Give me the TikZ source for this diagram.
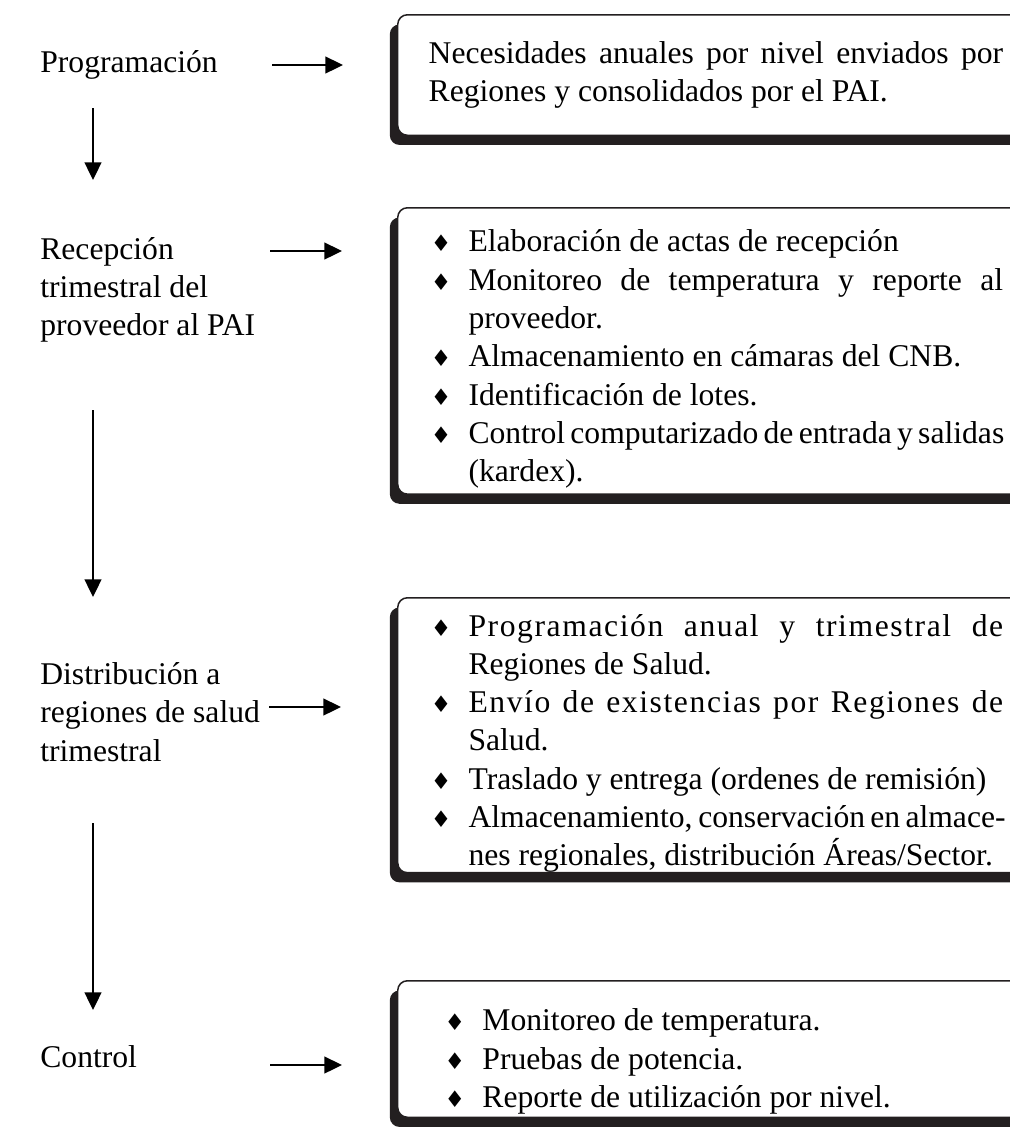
\documentclass[tikz,border=0pt]{standalone}
\usepackage{fontspec}
\setmainfont{Liberation Serif}
\newfontfamily\simbolos{DejaVu Sans}
\usetikzlibrary{arrows.meta,shadows}

\definecolor{tinta}{HTML}{231F20}

% bullets of the boxes
\newcommand{\rombo}{{\simbolos\fontsize{13}{13}\selectfont ♦}}
\newenvironment{vinetas}[1]{%
  \begin{list}{\rombo}{\setlength{\leftmargin}{#1}\setlength{\labelwidth}{21.5pt}%
    \setlength{\labelsep}{0pt}\setlength{\itemsep}{0pt}\setlength{\parsep}{0pt}%
    \setlength{\topsep}{0pt}\setlength{\partopsep}{0pt}%
    \renewcommand{\makelabel}[1]{##1\hfil}}}%
  {\end{list}}
\newcommand{\espaciado}{\addfontfeature{LetterSpace=5}}
% a full, justified line
\newcommand{\linea}[1]{\makebox[\linewidth][s]{#1}\newline}

\tikzset{
  caja/.style={rectangle, rounded corners=5.5pt, draw=tinta, line width=0.85pt,
    fill=white, anchor=north west, text width=327pt, inner xsep=17.6pt,
    inner ysep=0pt, align=justify,
    drop shadow={shadow xshift=-4.5pt, shadow yshift=-5.5pt, opacity=1, fill=tinta}},
  etiqueta/.style={anchor=west, align=left, inner sep=0pt},
  flecha/.style={line width=1.1pt, -{Triangle[length=10pt,width=9.5pt]}}
}

\begin{document}
\begin{tikzpicture}[x=0.02cm, y=-0.02cm, font=\fontsize{18}{21.8}\selectfont]
  \useasboundingbox (0,0) rectangle (1009,1127);
  \hyphenpenalty=10000 \tolerance=10000

  % steps
  \node[etiqueta] (prog) at (40,65) {Programación};
  \node[etiqueta] (recep) at (40,290) {Recepción\\trimestral del\\proveedor al PAI};
  \node[etiqueta] (distr) at (40,712) {Distribución a\\regiones de salud\\trimestral};
  \node[etiqueta] (ctrl) at (40,1057) {Control};

  % boxes
  \node[caja, minimum height=68.6pt] (b1) at (397,14)
    {\makebox[\hsize][s]{Necesidades anuales por nivel enviados por}\newline
     Regiones y consolidados por el PAI.};

  \node[caja, minimum height=163pt] (b2) at (397,207) {%
    \begin{vinetas}{22.7pt}
      \item Elaboración de actas de recepción
      \item \linea{Monitoreo de temperatura y reporte al}proveedor.
      \item Almacenamiento en cámaras del CNB.
      \item Identificación de lotes.
      \item \linea{Control computarizado de entrada y salidas}(kardex).
    \end{vinetas}};

  \node[caja, minimum height=153.6pt] (b3) at (397,597) {%
    \begin{vinetas}{22.7pt}
      \item \linea{\espaciado Programación anual y trimestral de}Regiones de Salud.
      \item \linea{\espaciado Envío de existencias por Regiones de}Salud.
      \item Traslado y entrega (ordenes de remisión)
      \item \linea{Almacenamiento, conservación en almace-}nes regionales, distribución Áreas/Sector.
    \end{vinetas}};

  \node[caja, minimum height=77.7pt] (b4) at (397,980) {%
    \vspace*{5pt}
    \begin{vinetas}{30.6pt}
      \item Monitoreo de temperatura.
      \item Pruebas de potencia.
      \item Reporte de utilización por nivel.
    \end{vinetas}
    \vspace*{4pt}};

  % arrow ends
  \coordinate (h1a) at (272,65);   \coordinate (h1b) at (343,65);
  \coordinate (h2a) at (270,251);  \coordinate (h2b) at (342,251);
  \coordinate (h3a) at (269,707);  \coordinate (h3b) at (341,707);
  \coordinate (h4a) at (270,1065); \coordinate (h4b) at (342,1065);
  \coordinate (v1a) at (93,108);   \coordinate (v1b) at (93,180);
  \coordinate (v2a) at (93,410);   \coordinate (v2b) at (93,597);
  \coordinate (v3a) at (93,823);   \coordinate (v3b) at (93,1010);

  \draw[flecha] (h1a) -- (h1b);
  \draw[flecha] (h2a) -- (h2b);
  \draw[flecha] (h3a) -- (h3b);
  \draw[flecha] (h4a) -- (h4b);

  \draw[flecha] (v1a) -- (v1b);
  \draw[flecha] (v2a) -- (v2b);
  \draw[flecha] (v3a) -- (v3b);
\end{tikzpicture}
\end{document}
